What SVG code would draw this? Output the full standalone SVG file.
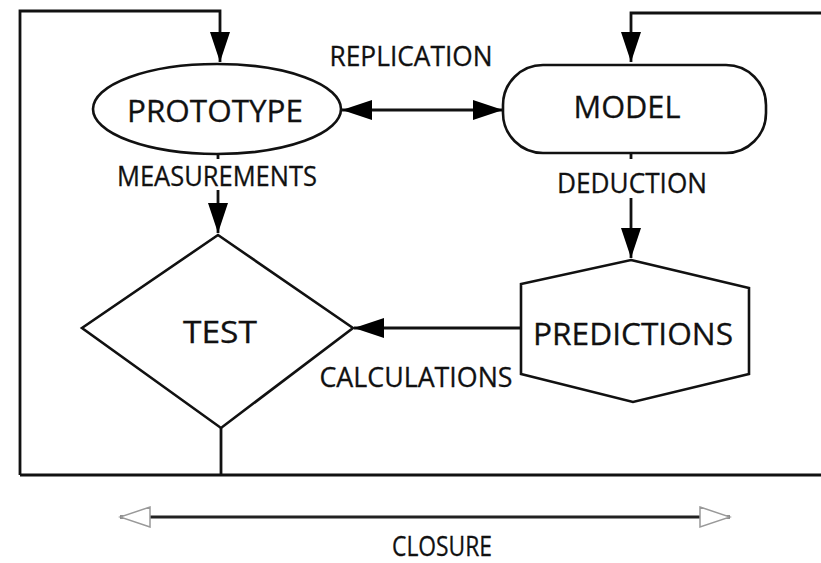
<svg xmlns="http://www.w3.org/2000/svg" width="821" height="563" viewBox="0 0 821 563">
  <style>
    .shape { fill: #fff; stroke: #111; stroke-width: 2.6; }
    .wire { fill: none; stroke: #111; stroke-width: 2.8; }
    .lbl { font-family: "Open Sans", "Liberation Sans", sans-serif; fill: #111; stroke: #111; stroke-width: 0.3; text-anchor: middle; }
    .big { font-size: 31px; }
    .small { font-size: 27px; }
  </style>
  <defs>
    <marker id="solid" viewBox="0 0 30 20" refX="30" refY="10" markerWidth="30" markerHeight="20" markerUnits="userSpaceOnUse" orient="auto-start-reverse">
      <path d="M0,0 L30,10 L0,20 Z" fill="#000"/>
    </marker>
    <marker id="hollow" viewBox="0 0 34 24" refX="32" refY="12" markerWidth="34" markerHeight="24" markerUnits="userSpaceOnUse" orient="auto-start-reverse">
      <path d="M2,2 L32,12 L2,22 Z" fill="#fff" stroke="#999" stroke-width="1.5"/>
    </marker>
  </defs>

  <!-- connectors -->
  <g id="connectors">
    <!-- closure feedback loop back to the prototype -->
    <path class="wire" d="M221,428 L221,475"/>
    <path class="wire" d="M20,475 L821,475"/>
    <path class="wire" d="M20,475 L20,11 L220,11 L220,62" marker-end="url(#solid)"/>
    <!-- feedback into the model -->
    <path class="wire" d="M821,13 L631,13 L631,62" marker-end="url(#solid)"/>
    <!-- replication (two-way) -->
    <path class="wire" d="M342,110 L503,110" marker-start="url(#solid)" marker-end="url(#solid)"/>
    <!-- measurements -->
    <path class="wire" d="M218,153 L218,159"/>
    <path class="wire" d="M218,190 L218,233" marker-end="url(#solid)"/>
    <!-- deduction -->
    <path class="wire" d="M631,153 L631,159"/>
    <path class="wire" d="M631,198 L631,258" marker-end="url(#solid)"/>
    <!-- calculations -->
    <path class="wire" d="M521,328 L354,328" marker-end="url(#solid)"/>
    <!-- closure span -->
    <path d="M120,517 L730,517" fill="none" stroke="#222" stroke-width="3" marker-start="url(#hollow)" marker-end="url(#hollow)"/>
  </g>

  <g id="prototype">
    <ellipse class="shape" cx="217" cy="109" rx="124" ry="45"/>
    <text class="lbl big" x="215" y="122" textLength="176" lengthAdjust="spacingAndGlyphs">PROTOTYPE</text>
  </g>

  <g id="model">
    <rect class="shape" x="503" y="65" width="263" height="88" rx="40" ry="40"/>
    <text class="lbl big" x="627" y="118" textLength="107" lengthAdjust="spacingAndGlyphs">MODEL</text>
  </g>

  <g id="test">
    <polygon class="shape" points="218,235 353,328 221,428 82,328"/>
    <text class="lbl big" x="220" y="343" textLength="74" lengthAdjust="spacingAndGlyphs">TEST</text>
  </g>

  <g id="predictions">
    <polygon class="shape" points="631,260 749,288 749,374 633,402 521,374 521,284"/>
    <text class="lbl big" x="633" y="345" textLength="200" lengthAdjust="spacingAndGlyphs">PREDICTIONS</text>
  </g>

  <g id="labels">
    <text class="lbl small" x="411" y="66" textLength="163" lengthAdjust="spacingAndGlyphs">REPLICATION</text>
    <text class="lbl small" x="217" y="186" textLength="200" lengthAdjust="spacingAndGlyphs">MEASUREMENTS</text>
    <text class="lbl small" x="632" y="193" textLength="150" lengthAdjust="spacingAndGlyphs">DEDUCTION</text>
    <text class="lbl small" x="416" y="387" textLength="193" lengthAdjust="spacingAndGlyphs">CALCULATIONS</text>
    <text class="lbl small" x="442" y="556" textLength="100" lengthAdjust="spacingAndGlyphs">CLOSURE</text>
  </g>
</svg>
